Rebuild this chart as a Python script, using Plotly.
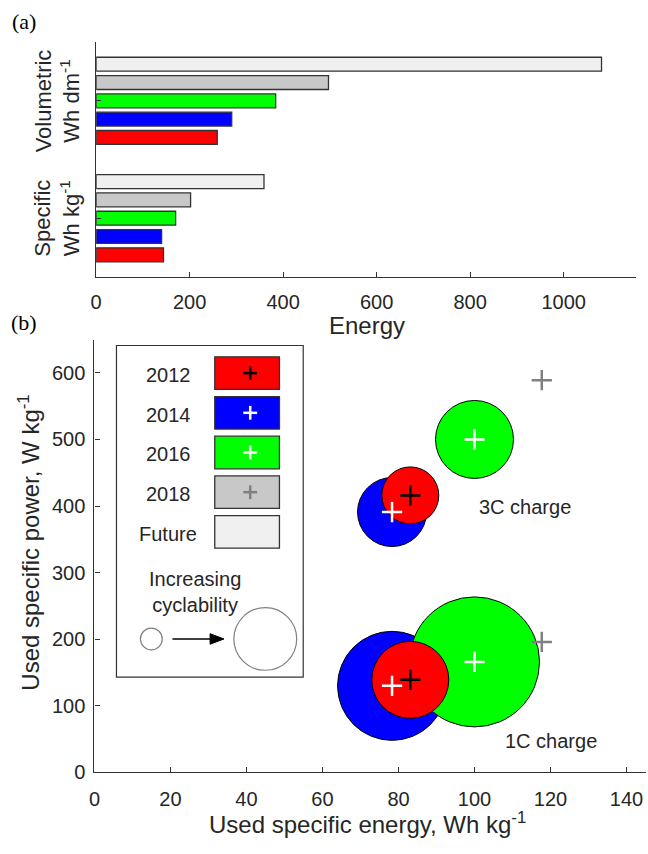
import plotly.graph_objects as go

W, H = 648, 854

# ---- panel (a): cell energy by generation ----
years = ["2012", "2014", "2016", "2018", "Future"]
bar_colors = ["#ff0000", "#0000ff", "#00ff00", "#c8c8c8", "#f0f0f0"]
energy_groups = ["Specific", "Volumetric"]
specific_wh_kg = [144, 140, 170, 202, 359]
volumetric_wh_dm3 = [259, 290, 384, 497, 1081]
energy_ticks = [0, 200, 400, 600, 800, 1000]

# ---- panel (b): used specific energy vs. power ----
bubble_years = ["2012", "2014", "2016"]
bubble_colors = ["#ff0000", "#0000ff", "#00ff00"]
plus_colors = ["#000000", "#ffffff", "#ffffff"]
used_energy = [83.1, 78.3, 100.0]
power_1c = [139, 130, 166]
power_3c = [416, 391, 500]
# marker diameter grows with cyclability
cyclability_1c = [77, 109, 130]
cyclability_3c = [57, 69, 78]
energy_2018 = [117.7, 117.7]
power_2018 = [196, 589]
plus_2018 = "#808080"
x_ticks = [0, 20, 40, 60, 80, 100, 120, 140]
y_ticks = [0, 100, 200, 300, 400, 500, 600]

FONT = "Liberation Sans, Arial, sans-serif"
INK = "#262626"
EDGE = "#333333"


def px(x):
    return x / W


def py(y):
    return 1 - y / H


def label(x, y, text, size=20, xref="paper", yref="paper", angle=0, family=FONT, color=INK):
    return dict(xref=xref, yref=yref, x=x, y=y, text=text, showarrow=False,
                xanchor="center", yanchor="middle", textangle=angle,
                font=dict(family=family, size=size, color=color))


fig = go.Figure()

# horizontal grouped bars
for i, yr in enumerate(years):
    fig.add_trace(go.Bar(
        orientation="h", y=energy_groups,
        x=[specific_wh_kg[i], volumetric_wh_dm3[i]],
        name=yr, marker=dict(color=bar_colors[i], line=dict(color=EDGE, width=1.3)),
        xaxis="x", yaxis="y"))

# bubbles: 2014 at the back, then 2016, 2012 on top
order = [1, 2, 0]
for powers, sizes in ((power_3c, cyclability_3c), (power_1c, cyclability_1c)):
    for i in order:
        fig.add_trace(go.Scatter(
            x=[used_energy[i]], y=[powers[i]], mode="markers",
            marker=dict(symbol="circle", size=sizes[i], color=bubble_colors[i],
                        line=dict(color="#000000", width=1)),
            xaxis="x2", yaxis="y2", hoverinfo="skip"))

for powers in (power_3c, power_1c):
    for i in order:
        fig.add_trace(go.Scatter(
            x=[used_energy[i]], y=[powers[i]], mode="markers",
            marker=dict(symbol="cross-thin", size=14.5, color=plus_colors[i],
                        line=dict(color=plus_colors[i], width=2.5)),
            xaxis="x2", yaxis="y2", hoverinfo="skip"))

fig.add_trace(go.Scatter(
    x=energy_2018, y=power_2018, mode="markers",
    marker=dict(symbol="cross-thin", size=14.5, color=plus_2018,
                line=dict(color=plus_2018, width=2.5)),
    xaxis="x2", yaxis="y2", hoverinfo="skip"))

axis_common = dict(showline=True, linecolor=EDGE, linewidth=1.3, showgrid=False,
                   zeroline=False, ticks="inside", tickcolor=EDGE, ticklen=5,
                   tickwidth=1, tickfont=dict(family=FONT, size=20, color=INK))

shapes = []
annotations = []

# legend box for panel (b)
LX0, LX1, LY0, LY1 = 111.5, 300, 350, 686
shapes.append(dict(type="rect", xref="paper", yref="paper",
                   x0=px(LX0), x1=px(LX1), y0=py(LY1), y1=py(LY0),
                   line=dict(color=EDGE, width=1.2), fillcolor="rgba(0,0,0,0)"))
legend_plus = plus_colors + [plus_2018, None]
for i, yr in enumerate(years):
    cy = 378 + 40.2 * i
    shapes.append(dict(type="rect", xref="paper", yref="paper",
                       x0=px(210.7), x1=px(276), y0=py(cy + 16.5), y1=py(cy - 16.5),
                       line=dict(color=EDGE, width=1.3), fillcolor=bar_colors[i]))
    if legend_plus[i]:
        cx, h = 246.5, 7
        shapes.append(dict(type="line", xref="paper", yref="paper",
                           x0=px(cx - h), x1=px(cx + h), y0=py(cy), y1=py(cy),
                           line=dict(color=legend_plus[i], width=2.5)))
        shapes.append(dict(type="line", xref="paper", yref="paper",
                           x0=px(cx), x1=px(cx), y0=py(cy - h), y1=py(cy + h),
                           line=dict(color=legend_plus[i], width=2.5)))
    annotations.append(label(px(164), py(cy + 2), yr))

annotations.append(label(px(190.7), py(600), "Increasing<br>cyclability"))
for cx, r in ((146.7, 11), (261.7, 31.7)):
    shapes.append(dict(type="circle", xref="paper", yref="paper",
                       x0=px(cx - r), x1=px(cx + r), y0=py(647.3 + r), y1=py(647.3 - r),
                       line=dict(color="#808080", width=1.2)))
shapes.append(dict(type="line", xref="paper", yref="paper",
                   x0=px(168), x1=px(208), y0=py(647.3), y1=py(647.3),
                   line=dict(color="#000000", width=1.5)))
shapes.append(dict(type="path", xref="paper", yref="paper",
                   path=f"M{px(206)},{py(642)} L{px(220)},{py(647.3)} L{px(206)},{py(652.6)} Z",
                   fillcolor="#000000", line=dict(color="#000000", width=1)))

# charge-rate labels
annotations.append(label(113.2, 399, "3C charge", xref="x2", yref="y2"))
annotations.append(label(120, 47, "1C charge", xref="x2", yref="y2"))

# panel (a) group labels
annotations.append(label(px(52), 1, "Volumetric<br>Wh dm<sup>-1</sup>", size=22,
                         yref="y", angle=-90))
annotations.append(label(px(52), 0, "Specific<br>Wh kg<sup>-1</sup>", size=22,
                         yref="y", angle=-90))

# axis titles
annotations.append(label(px(364), py(330), "Energy", size=24))
annotations.append(label(px(365), py(834), "Used specific energy, Wh kg<sup>-1</sup>", size=24))
annotations.append(label(px(23), py(550), "Used specific power, W kg<sup>-1</sup>", size=24,
                         angle=-90))

# panel letters
for letter, yy in (("(a)", 22), ("(b)", 327)):
    annotations.append(label(px(18), py(yy), letter, size=22,
                             family="Liberation Serif, Times New Roman, serif",
                             color="#000000"))

fig.update_layout(
    width=W, height=H, margin=dict(l=0, r=0, t=0, b=0),
    paper_bgcolor="white", plot_bgcolor="white", showlegend=False,
    barmode="group", bargap=0.22, bargroupgap=0.24,
    xaxis=dict(domain=[px(91), px(636)], range=[0, 1155], anchor="y",
               tickvals=energy_ticks, ticklabelstandoff=7, **axis_common),
    yaxis=dict(domain=[py(280.5), py(42.7)], range=[-0.5, 1.5], anchor="x",
               type="category", categoryorder="array", categoryarray=energy_groups,
               showticklabels=False, **axis_common),
    xaxis2=dict(domain=[px(89.3), px(645.5)], range=[0, 145], anchor="y2",
                tickvals=x_ticks, ticklabelstandoff=8, **axis_common),
    yaxis2=dict(domain=[py(782.5), py(344)], range=[0, 650], anchor="x2",
                tickvals=y_ticks, ticklabelstandoff=4, **axis_common),
    shapes=shapes, annotations=annotations,
)

fig.write_html("out.html")
